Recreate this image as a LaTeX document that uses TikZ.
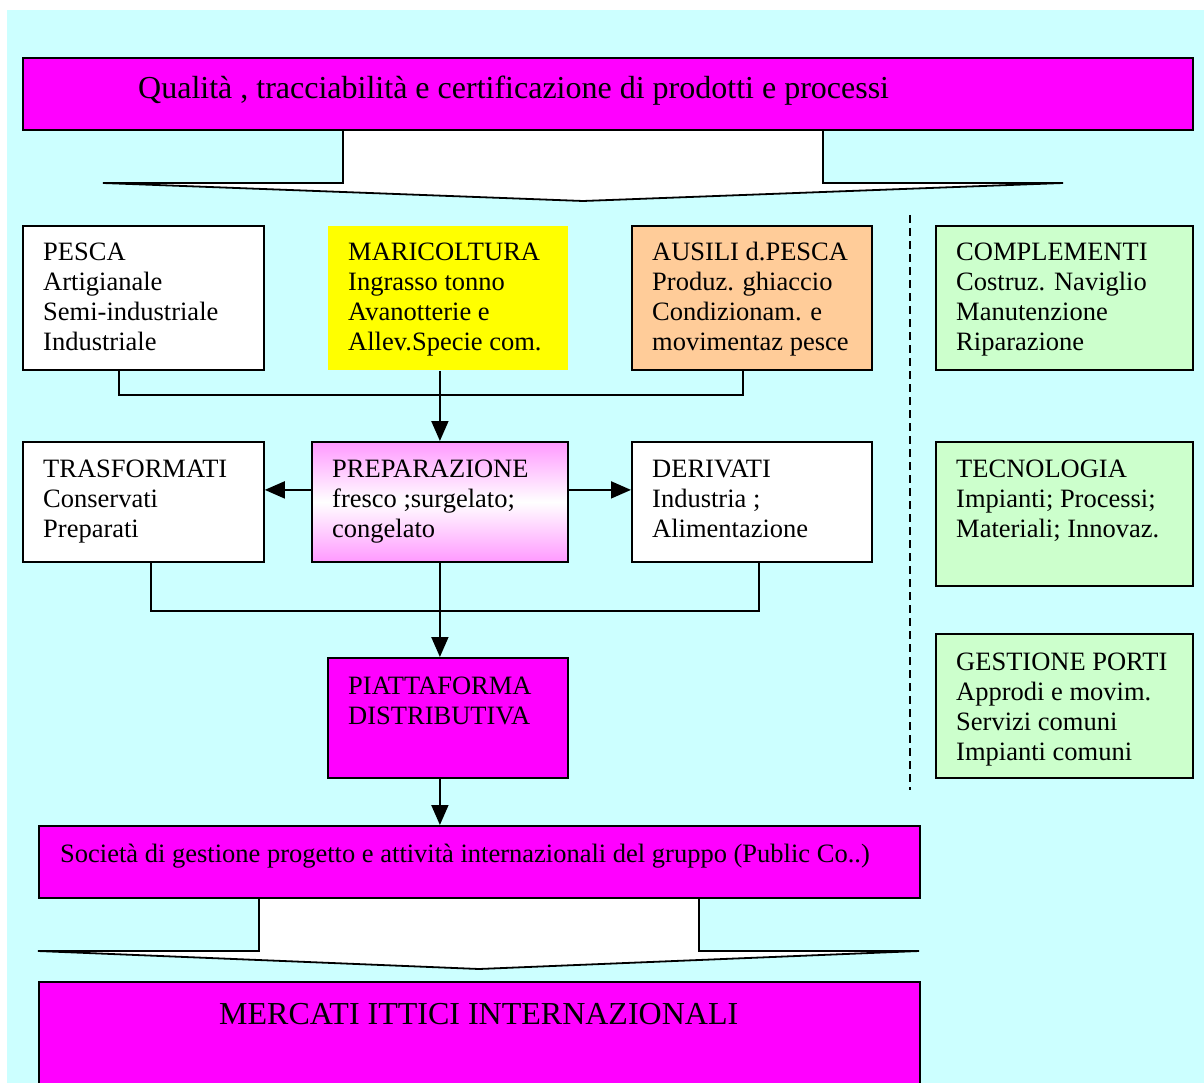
\documentclass[tikz,border=0pt]{standalone}
\usepackage{fontspec}
\setmainfont{Liberation Serif}
\usetikzlibrary{arrows.meta,calc}
\definecolor{bgcyan}{HTML}{CCFFFF}
\definecolor{mag}{HTML}{FF00FF}
\definecolor{yel}{HTML}{FFFF00}
\definecolor{peach}{HTML}{FFCC99}
\definecolor{lgreen}{HTML}{CCFFCC}
\definecolor{pinkg}{HTML}{FF99FF}
\newcommand\bt[1]{\parbox[t]{330pt}{#1}}
\tikzset{
  box/.style={draw=black, line width=1.8pt, anchor=north west, inner sep=0pt},
  txt/.style={anchor=base west, inner sep=0pt, font=\fontsize{26.5}{30}\selectfont},
  bigtxt/.style={anchor=base west, inner sep=0pt, font=\fontsize{32}{36}\selectfont},
  conn/.style={line width=1.8pt},
  arr/.style={conn, -{Triangle[length=20pt,width=17pt]}},
  blockarrow/.style={draw=black, line width=1.8pt, fill=white, line join=miter},
}
\begin{document}
\begin{tikzpicture}[x=1pt,y=-1pt]
\useasboundingbox (0,0) rectangle (1204,1083);
\clip (0,0) rectangle (1204,1083);
\fill[bgcyan] (7,10) rectangle (1210,1090);

% block arrows
\draw[blockarrow] (343,125) -- (343,183) -- (103,183) -- (583,201) -- (1063,183) -- (823,183) -- (823,125);
\draw[blockarrow] (259,893) -- (259,951) -- (38,951) -- (479,969) -- (919,951) -- (699,951) -- (699,893);

% top box
\node[box, fill=mag, minimum width=1170pt, minimum height=72pt] (qual) at (22,57) {};
\node[bigtxt] (qual-t) at ([xshift=116pt,yshift=-42pt]qual.north west) {Qualità , tracciabilità e certificazione di prodotti e processi};

% row 1
\node[box, fill=white, minimum width=241pt, minimum height=144pt] (pesca) at (22,225) {};
\node[box, draw=none, fill=yel, minimum width=240pt, minimum height=144pt] (mari) at (327,225) {};
\node[box, fill=peach, minimum width=240pt, minimum height=144pt] (ausili) at (631,225) {};
\node[box, fill=lgreen, minimum width=257pt, minimum height=144pt] (compl) at (935,225) {};

\node[txt] (pesca-t) at ([xshift=21pt,yshift=-36pt]pesca.north west) {\bt{PESCA\\Artigianale\\Semi-industriale\\Industriale}};
\node[txt] (mari-t) at ([xshift=21pt,yshift=-36pt]mari.north west) {\bt{MARICOLTURA\\Ingrasso tonno\\Avanotterie e\\Allev.Specie com.}};
\node[txt] (ausili-t) at ([xshift=21pt,yshift=-36pt]ausili.north west) {\bt{AUSILI d.PESCA\\Produz. ghiaccio\\Condizionam. e\\movimentaz pesce}};
\node[txt] (compl-t) at ([xshift=21pt,yshift=-36pt]compl.north west) {\bt{COMPLEMENTI\\Costruz. Naviglio\\Manutenzione\\Riparazione}};

% row 2
\node[box, fill=white, minimum width=241pt, minimum height=120pt] (trasf) at (22,441) {};
\node[box, top color=pinkg, bottom color=pinkg, middle color=white, minimum width=256pt, minimum height=120pt] (prep) at (311,441) {};
\node[box, fill=white, minimum width=240pt, minimum height=120pt] (deriv) at (631,441) {};
\node[box, fill=lgreen, minimum width=257pt, minimum height=144pt] (tecno) at (935,441) {};

\node[txt] (trasf-t) at ([xshift=21pt,yshift=-36pt]trasf.north west) {\bt{TRASFORMATI\\Conservati\\Preparati}};
\node[txt] (prep-t) at ([xshift=21pt,yshift=-36pt]prep.north west) {\bt{PREPARAZIONE\\fresco ;surgelato;\\congelato}};
\node[txt] (deriv-t) at ([xshift=21pt,yshift=-36pt]deriv.north west) {\bt{DERIVATI\\Industria ;\\Alimentazione}};
\node[txt] (tecno-t) at ([xshift=21pt,yshift=-36pt]tecno.north west) {\bt{TECNOLOGIA\\Impianti; Processi;\\Materiali; Innovaz.}};

% row 3
\node[box, fill=mag, minimum width=240pt, minimum height=120pt] (piatt) at (327,657) {};
\node[box, fill=lgreen, minimum width=257pt, minimum height=144pt] (porti) at (935,633) {};
\node[txt] (piatt-t) at ([xshift=21pt,yshift=-37pt]piatt.north west) {\bt{PIATTAFORMA\\DISTRIBUTIVA}};
\node[txt] (porti-t) at ([xshift=21pt,yshift=-37pt]porti.north west) {\bt{GESTIONE PORTI\\Approdi e movim.\\Servizi comuni\\Impianti comuni}};

% bottom boxes
\node[box, fill=mag, minimum width=881pt, minimum height=72pt] (soc) at (38,825) {};
\node[txt] (soc-t) at ([xshift=22pt,yshift=-37pt]soc.north west) {Società di gestione progetto e attività internazionali del gruppo (Public Co..)};
\node[box, fill=mag, minimum width=881pt, minimum height=120pt] (merc) at (38,981) {};
\node[bigtxt] (merc-t) at ([xshift=181pt,yshift=-43pt]merc.north west) {MERCATI ITTICI INTERNAZIONALI};

% separator
\draw[line width=1.3pt, dash pattern=on 8pt off 5pt] (910,215) -- (910,790);

% connectors
\draw[conn] ([xshift=97pt]pesca.south west) -- ++(0,24) -| ([xshift=112pt]ausili.south west);
\draw[arr] (prep.north |- mari.south) -- (prep.north);
\draw[arr] ([yshift=12pt]prep.west) -- ([yshift=12pt]trasf.east);
\draw[arr] ([yshift=12pt]prep.east) -- ([yshift=12pt]deriv.west);
\draw[conn] ([xshift=129pt]trasf.south west) -- ++(0,48) -| ([xshift=128pt]deriv.south west);
\draw[arr] (prep.south) -- (prep.south |- piatt.north);
\draw[arr] (prep.south |- piatt.south) -- (prep.south |- soc.north);
\end{tikzpicture}
\end{document}
